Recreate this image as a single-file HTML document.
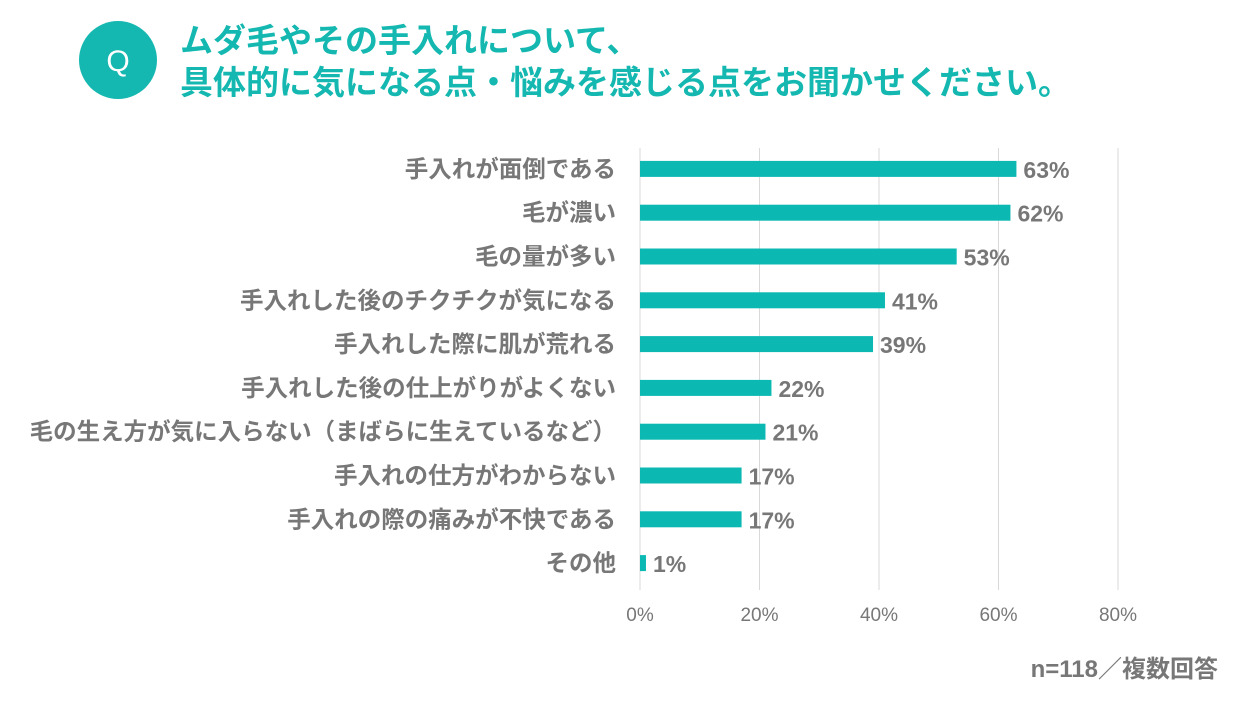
<!DOCTYPE html>
<html><head><meta charset="utf-8">
<style>
body{margin:0;background:#fff;width:1260px;height:700px;overflow:hidden;font-family:"Liberation Sans","Noto Sans CJK JP",sans-serif}
</style></head>
<body>
<svg width="1260" height="700" xmlns="http://www.w3.org/2000/svg">
<circle cx="118" cy="60" r="39" fill="#14b8b0"/>
<text x="118" y="71" text-anchor="middle" font-size="30" fill="#fff" font-family="Liberation Sans, sans-serif">Q</text>
<text x="180" y="52" font-size="33" font-weight="bold" fill="#14b8b0" font-family="Liberation Sans, Noto Sans CJK JP, sans-serif">ムダ毛やその手入れについて、</text>
<text x="180" y="94" font-size="33" font-weight="bold" fill="#14b8b0" font-family="Liberation Sans, Noto Sans CJK JP, sans-serif">具体的に気になる点・悩みを感じる点をお聞かせください。</text>
<g id="grid"></g><g id="bars"></g><g id="labels"></g>
<text x="1218" y="677" text-anchor="end" font-size="24" font-weight="bold" fill="#777" font-family="Liberation Sans, Noto Sans CJK JP, sans-serif">n=118／複数回答</text>
</svg>
<script>
const categories=["手入れが面倒である","毛が濃い","毛の量が多い","手入れした後のチクチクが気になる","手入れした際に肌が荒れる","手入れした後の仕上がりがよくない","毛の生え方が気に入らない（まばらに生えているなど）","手入れの仕方がわからない","手入れの際の痛みが不快である","その他"];
const values=[63,62,53,41,39,22,21,17,17,1];
const ticks=[0,20,40,60,80];
const NS="http://www.w3.org/2000/svg";
const x0=640,pxPer=119.5/20,yTop=147,rowH=43.8;
const xs=v=>x0+v*pxPer;
const yc=i=>yTop+rowH*(i+0.5);
function mk(t,a,p){const e=document.createElementNS(NS,t);for(const k in a)e.setAttribute(k,a[k]);p.appendChild(e);return e;}
const g=document.getElementById('grid'),b=document.getElementById('bars'),l=document.getElementById('labels');
ticks.forEach(t=>{
 const ln=mk('line',{x1:xs(t),x2:xs(t),y1:148,y2:590,stroke:'#d9d9d9','stroke-width':1},g);
 
 
 const tx=mk('text',{x:xs(t),y:621,'text-anchor':'middle','font-size':19,fill:'#777'},g);
 tx.textContent=t+'%';
 
 
});
categories.forEach((c,i)=>{
 const y=yc(i);
 const r=mk('rect',{x:x0,y:y-8,width:Math.max(values[i]*pxPer,2),height:16,fill:'#0cb8b2'},b);
 
 
 const v=mk('text',{x:xs(values[i])+7,y:y+9,'font-size':23,'font-weight':'bold',fill:'#777'},l);
 v.textContent=values[i]+'%';
 
 
 const ct=mk('text',{x:616,y:y+8,'text-anchor':'end','font-size':23.5,'font-weight':'bold',fill:'#777'},l);
 ct.textContent=c;
 
 
});
</script>
</body></html>
